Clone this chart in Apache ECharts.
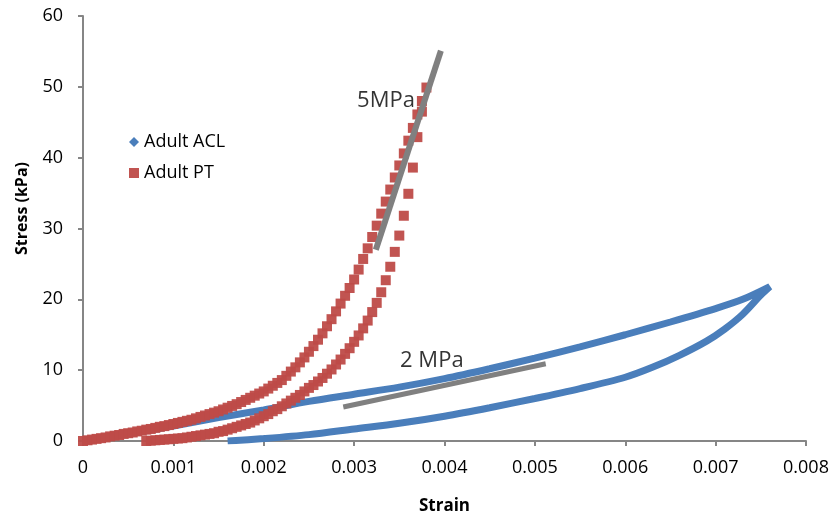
<!DOCTYPE html>
<html>
<head>
<meta charset="utf-8">
<script src="https://cdn.jsdelivr.net/npm/echarts@6/dist/echarts.min.js"></script>
<style>
  html, body { margin: 0; padding: 0; background: #fff; }
  #container { width: 833px; height: 522px; }
</style>
</head>
<body>
<div id="container"></div>
<script type="text/javascript">
// strain / stress (kPa)
var aclLoad = [
    [0, 0], [0.0005, 1.0], [0.001, 2.1], [0.0015, 3.3], [0.002, 4.4], [0.0025, 5.6],
    [0.003, 6.6], [0.0035, 7.6], [0.004, 8.8], [0.0045, 10.2], [0.005, 11.7],
    [0.0055, 13.3], [0.006, 15.0], [0.0065, 16.8], [0.007, 18.7], [0.0073, 20.0],
    [0.0076, 21.8]
];
var aclUnload = [
    [0.0076, 21.8], [0.0075, 20.6], [0.0073, 17.9], [0.0071, 15.8], [0.0069, 14.1],
    [0.0066, 12.1], [0.0063, 10.4], [0.006, 9.0], [0.0055, 7.4], [0.005, 6.0],
    [0.0045, 4.7], [0.004, 3.5], [0.0035, 2.5], [0.003, 1.7], [0.0025, 0.9],
    [0.002, 0.35], [0.0016, 0]
];
var ptLoad = [
    [0, 0], [0.00005, 0.1], [0.0001, 0.2], [0.00015, 0.3], [0.0002, 0.4], [0.00025, 0.5],
    [0.0003, 0.65], [0.00035, 0.75], [0.0004, 0.85], [0.00045, 1.0], [0.0005, 1.1],
    [0.00055, 1.2], [0.0006, 1.35], [0.00065, 1.45], [0.0007, 1.6], [0.00075, 1.7],
    [0.0008, 1.85], [0.00085, 2.0], [0.0009, 2.1], [0.00095, 2.25], [0.001, 2.4],
    [0.00105, 2.55], [0.0011, 2.7], [0.00115, 2.85], [0.0012, 3.0], [0.00125, 3.2],
    [0.0013, 3.4], [0.00135, 3.6], [0.0014, 3.8], [0.00145, 4.0], [0.0015, 4.2],
    [0.00155, 4.45], [0.0016, 4.7], [0.00165, 4.95], [0.0017, 5.2], [0.00175, 5.5],
    [0.0018, 5.8], [0.00185, 6.1], [0.0019, 6.4], [0.00195, 6.7], [0.002, 7.0],
    [0.00205, 7.4], [0.0021, 7.8], [0.00215, 8.2], [0.0022, 8.6], [0.00225, 9.2],
    [0.0023, 9.8], [0.00235, 10.4], [0.0024, 11.1], [0.00245, 11.8], [0.0025, 12.6],
    [0.00255, 13.4], [0.0026, 14.3], [0.00265, 15.2], [0.0027, 16.2], [0.00275, 17.2],
    [0.0028, 18.3], [0.00285, 19.4], [0.0029, 20.5], [0.00295, 21.6], [0.003, 22.8],
    [0.00305, 24.2], [0.0031, 25.7], [0.00315, 27.2], [0.0032, 28.8], [0.00325, 30.4],
    [0.0033, 32.1], [0.00335, 33.8], [0.0034, 35.5], [0.00345, 37.2], [0.0035, 38.9],
    [0.00355, 40.6], [0.0036, 42.4], [0.00365, 44.2], [0.0037, 46.1], [0.00375, 48.0],
    [0.0038, 49.9]
];
var ptUnload = [
    [0.00375, 46.5], [0.0037, 42.9], [0.00365, 38.6], [0.0036, 34.9], [0.00355, 31.8],
    [0.0035, 29.0], [0.00345, 26.7], [0.0034, 24.6], [0.00335, 22.7], [0.0033, 21.0],
    [0.00325, 19.5], [0.0032, 18.2], [0.00315, 17.0], [0.0031, 15.9], [0.00305, 14.9],
    [0.003, 14.0], [0.00295, 13.1], [0.0029, 12.3], [0.00285, 11.5], [0.0028, 10.8],
    [0.00275, 10.1], [0.0027, 9.5], [0.00265, 8.9], [0.0026, 8.4], [0.00255, 7.9],
    [0.0025, 7.5], [0.00245, 7.0], [0.0024, 6.5], [0.00235, 6.1], [0.0023, 5.7],
    [0.00225, 5.3], [0.0022, 4.9], [0.00215, 4.5], [0.0021, 4.2], [0.00205, 3.8],
    [0.002, 3.5], [0.00195, 3.2], [0.0019, 2.9], [0.00185, 2.6], [0.0018, 2.4],
    [0.00175, 2.2], [0.0017, 2.0], [0.00165, 1.8], [0.0016, 1.6], [0.00155, 1.4],
    [0.0015, 1.3], [0.00145, 1.1], [0.0014, 1.0], [0.00135, 0.9], [0.0013, 0.8],
    [0.00125, 0.7], [0.0012, 0.6], [0.00115, 0.5], [0.0011, 0.4], [0.00105, 0.35],
    [0.001, 0.3], [0.00095, 0.25], [0.0009, 0.2], [0.00085, 0.15], [0.0008, 0.1],
    [0.00075, 0.05], [0.0007, 0]
];
// slope guide lines and their labels
var slope5 = [[0.00324, 27.0], [0.00396, 55.1]];
var slope2 = [[0.00288, 4.8], [0.00512, 10.9]];
var slopeLabels = [
    { value: [0.003353, 48.0], text: '5MPa' },
    { value: [0.00386, 11.3], text: '2 MPa' }
];

var FONT = '"Open Sans", "Liberation Sans", sans-serif';
var AXIS_GREY = '#868686';
var BLUE = '#4A7EBB';
var RED = '#BE4B48';
var GUIDE = '#808080';

var dom = document.getElementById("container");
var myChart = echarts.init(dom, null, { renderer: 'canvas' });

var option = {
    animation: false,
    backgroundColor: '#fff',
    grid: { left: 83, right: 27, top: 16, bottom: 81 },
    legend: {
        orient: 'vertical',
        left: 124,
        top: 128,
        itemWidth: 10,
        itemHeight: 10,
        itemGap: 13,
        textStyle: { fontFamily: FONT, fontSize: 18, color: '#000' },
        data: [
            { name: 'Adult ACL', icon: 'diamond' },
            { name: 'Adult PT', icon: 'rect' }
        ]
    },
    xAxis: {
        type: 'value',
        min: 0,
        max: 0.008,
        interval: 0.001,
        name: 'Strain',
        nameLocation: 'middle',
        nameGap: 57,
        nameTextStyle: { fontFamily: FONT, fontSize: 17, fontWeight: 'bold', color: '#000' },
        axisLine: { lineStyle: { color: AXIS_GREY, width: 2 } },
        axisTick: { show: true, length: 5, lineStyle: { color: AXIS_GREY, width: 2 } },
        axisLabel: {
            margin: 18,
            fontFamily: FONT, fontSize: 18, color: '#000',
            formatter: function (v) { return v === 0 ? '0' : v.toFixed(3); }
        },
        splitLine: { show: false }
    },
    yAxis: {
        type: 'value',
        min: 0,
        max: 60,
        interval: 10,
        name: 'Stress (kPa)',
        nameLocation: 'middle',
        nameGap: 53,
        nameTextStyle: {
            fontFamily: FONT, fontSize: 16, fontWeight: 'bold', color: '#000',
            padding: [0, 0, 0, 40]
        },
        axisLine: { show: true, lineStyle: { color: AXIS_GREY, width: 2 } },
        axisTick: { show: true, length: 5, lineStyle: { color: AXIS_GREY, width: 2 } },
        axisLabel: { margin: 20, fontFamily: FONT, fontSize: 18, color: '#000' },
        splitLine: { show: false }
    },
    series: [
        {
            name: 'Adult ACL',
            type: 'line',
            data: aclLoad.concat(aclUnload),
            smooth: 0.3,
            showSymbol: false,
            color: BLUE,
            lineStyle: { color: BLUE, width: 7 },
            z: 2
        },
        {
            name: 'Adult PT',
            type: 'scatter',
            data: ptLoad.concat(ptUnload),
            symbol: 'rect',
            symbolSize: 10,
            color: RED,
            itemStyle: { color: RED, opacity: 0.95 },
            z: 3
        },
        {
            name: 'slope 5',
            type: 'line',
            data: slope5,
            showSymbol: false,
            silent: true,
            lineStyle: { color: GUIDE, width: 6 },
            z: 4
        },
        {
            name: 'slope 2',
            type: 'line',
            data: slope2,
            showSymbol: false,
            silent: true,
            lineStyle: { color: GUIDE, width: 5 },
            z: 4
        },
        {
            name: 'slope labels',
            type: 'scatter',
            symbolSize: 0,
            silent: true,
            data: slopeLabels.map(function (d) { return { value: d.value, name: d.text }; }),
            label: {
                show: true,
                position: 'inside',
                formatter: function (p) { return p.name; },
                fontFamily: FONT, fontSize: 22, color: '#000'
            },
            z: 5
        }
    ]
};

myChart.setOption(option);
</script>
</body>
</html>
